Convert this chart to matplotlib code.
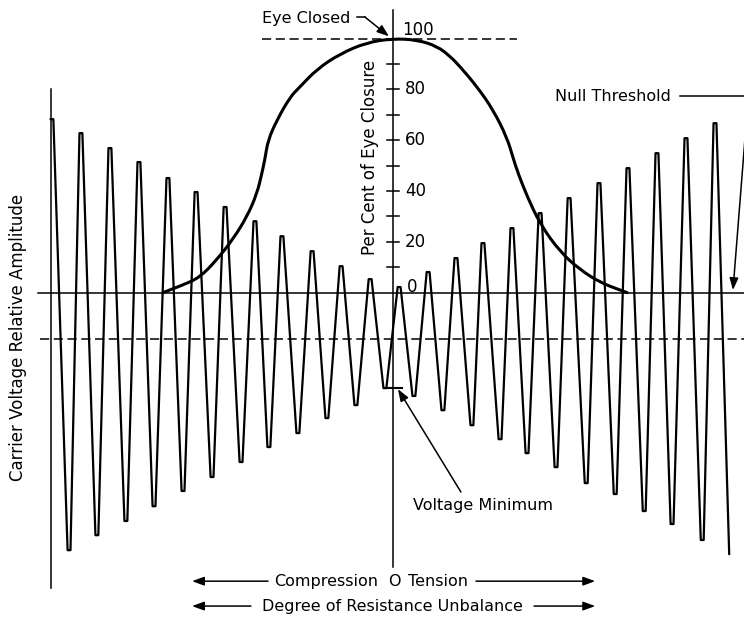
import numpy as np
import matplotlib.pyplot as plt
from matplotlib.path import Path
from matplotlib.patches import PathPatch

plt.rcParams['font.family'] = ['DejaVu Sans']

# carrier trace: peaks and troughs (x = degree of unbalance, y = relative amplitude)
peak_x = [-11.76, -10.76, -9.76, -8.76, -7.76, -6.79, -5.79, -4.76, -3.83, -2.79, -1.79, -0.79,
          0.21, 1.21, 2.17, 3.10, 4.10, 5.07, 6.07, 7.10, 8.10, 9.10, 10.10, 11.10]
peak_y = [68.3, 62.8, 56.9, 51.4, 45.1, 39.6, 33.7, 28.1, 22.2, 16.3, 10.4, 5.3,
          2.2, 8.1, 13.6, 19.5, 25.4, 31.3, 37.2, 43.1, 49.0, 54.9, 60.8, 66.7]
trough_x = [-11.17, -10.21, -9.21, -8.24, -7.24, -6.24, -5.24, -4.28, -3.28, -2.28, -1.28, -0.28,
            0.72, 1.72, 2.72, 3.69, 4.62, 5.62, 6.66, 7.66, 8.66, 9.62, 10.66]
trough_y = [-101.4, -95.5, -89.9, -84.1, -78.1, -72.6, -66.7, -60.8, -55.3, -49.4, -44.3, -37.6,
            -40.7, -46.3, -52.2, -57.7, -63.2, -68.7, -75.0, -79.3, -86.0, -91.1, -97.4]
trace_end = (11.59, -103.0)

# per cent of eye closure curve
bell_x = [-7.93, -7.24, -6.66, -6.07, -5.52, -5.03, -4.69, -4.52, -4.41, -4.31, -4.00, -3.55,
          -3.21, -2.62, -1.83, -0.90, 0.0, 0.83, 1.52, 1.97, 2.31, 2.90, 3.45, 3.93, 4.14,
          4.31, 4.62, 5.07, 5.76, 6.45, 7.14, 7.83, 8.07]
bell_pct = [0, 3, 6, 13, 21, 30, 39, 47, 53, 60, 68, 77,
            81, 88, 94, 98.5, 100, 99.5, 97, 93, 89, 81, 72, 61, 53,
            47, 38, 27, 16, 9, 4, 1, 0]

pct_ticks = [10, 20, 30, 40, 50, 60, 70, 80, 90]
pct_labels = [80, 60, 40, 20]
null_level = 0
dash_level = -18.3

fig = plt.figure(figsize=(7.44, 6.18), dpi=100)
ax = fig.add_axes([0, 0, 1, 1])
ax.set_xlim(-13.55, 12.10)
ax.set_ylim(-128.1, 115.2)
ax.axis('off')

# build the trace with small flat rounded tops
hw = 0.05
tx, ty = [], []
for i in range(len(peak_x)):
    tx += [peak_x[i] - hw, peak_x[i] + hw]
    ty += [peak_y[i], peak_y[i]]
    if i < len(trough_x):
        tx += [trough_x[i] - hw, trough_x[i] + hw]
        ty += [trough_y[i], trough_y[i]]
tx.append(trace_end[0])
ty.append(trace_end[1])
ax.plot(tx, ty, color='black', lw=1.6, solid_joinstyle='round', solid_capstyle='round')

# eye closure curve, drawn as a smooth quadratic bezier through the read points
pts = np.column_stack([bell_x, bell_pct])
verts = [pts[0]]
codes = [Path.MOVETO]
for i in range(1, len(pts) - 1):
    verts += [pts[i], (pts[i] + pts[i + 1]) / 2]
    codes += [Path.CURVE3, Path.CURVE3]
verts.append(pts[-1])
codes.append(Path.LINETO)
ax.add_patch(PathPatch(Path(verts, codes), fill=False, lw=2.2, color='black', capstyle='round'))

# axes lines
ax.plot([-11.79, -11.79], [80.1, -116.3], color='black', lw=1.1)
ax.plot([0, 0], [111.2, -108.1], color='black', lw=1.1)
ax.plot([-12.24, 12.1], [null_level, null_level], color='black', lw=1.1)
ax.plot([-12.17, 12.1], [dash_level, dash_level], color='black', lw=1.1, dashes=(6, 3))
ax.plot([-4.52, 4.28], [100, 100], color='black', lw=1.1, dashes=(6, 3))

for t in pct_ticks:
    ax.plot([-0.22, 0.22], [t, t], color='black', lw=1.1)
for t in pct_labels:
    ax.text(0.41, t, str(t), fontsize=12, ha='left', va='center')
ax.text(0.31, 103.3, '100', fontsize=12, ha='left', va='center')
ax.text(0.48, 2.4, '0', fontsize=12, ha='left', va='center')

ax.text(-0.79, 53.3, 'Per Cent of Eye Closure', fontsize=12, rotation=90, ha='center', va='center')
ax.text(-12.93, -17.5, 'Carrier Voltage Relative Amplitude', fontsize=12, rotation=90,
        ha='center', va='center')

arrow = dict(arrowstyle='-|>,head_length=0.6,head_width=0.22', color='black', lw=1.1,
             shrinkA=0, shrinkB=0, mutation_scale=12)

# Eye Closed
ax.text(-4.52, 108.1, 'Eye Closed', fontsize=11.5, ha='left', va='center')
ax.plot([-1.24, -0.97], [108.5, 108.5], color='black', lw=1.1)
ax.annotate('', xy=(-0.14, 100.9), xytext=(-0.97, 108.5), arrowprops=arrow)

# Null Threshold
ax.text(5.59, 77.4, 'Null Threshold', fontsize=11.5, ha='left', va='center')
ax.plot([9.9, 12.2], [77.6, 77.6], color='black', lw=1.1)
ax.annotate('', xy=(11.72, 1.0), xytext=(12.17, 65.9), arrowprops=arrow, annotation_clip=False)

# Voltage Minimum
ax.plot([-0.28, 0.31], [trough_y[11], trough_y[11]], color='black', lw=1.5)
ax.text(0.69, -83.7, 'Voltage Minimum', fontsize=11.5, ha='left', va='center')
ax.annotate('', xy=(0.17, -38.0), xytext=(2.34, -78.5), arrowprops=arrow)

# bottom captions
ax.text(-0.52, -113.6, 'Compression', fontsize=11.5, ha='right', va='center')
ax.text(0.03, -113.6, 'O', fontsize=11.5, ha='center', va='center')
ax.text(0.52, -113.6, 'Tension', fontsize=11.5, ha='left', va='center')
ax.annotate('', xy=(-6.93, -113.6), xytext=(-4.31, -113.6), arrowprops=arrow)
ax.annotate('', xy=(6.97, -113.6), xytext=(2.86, -113.6), arrowprops=arrow)

ax.text(-0.02, -123.4, 'Degree of Resistance Unbalance', fontsize=11.5, ha='center', va='center')
ax.annotate('', xy=(-6.93, -123.4), xytext=(-4.90, -123.4), arrowprops=arrow)
ax.annotate('', xy=(6.97, -123.4), xytext=(4.86, -123.4), arrowprops=arrow)

fig.savefig('out.png', dpi=100)
